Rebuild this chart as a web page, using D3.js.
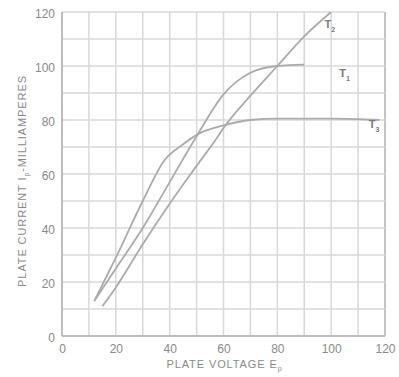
<!DOCTYPE html>
<html>
<head>
<meta charset="utf-8">
<script src="https://cdn.jsdelivr.net/npm/d3@7"></script>
<style>
  body { margin: 0; background: #fff; }
  text { font-family: "Liberation Sans", Arial, sans-serif; fill: #8a8a8a; }
</style>
</head>
<body>
<div id="chart"></div>
<script>
// plate voltage (x) vs plate current (y), three tubes
var T1_V = [12, 20, 30, 40, 50, 60, 70, 80, 90],
    T1_I = [13, 25, 40, 57, 74, 89.5, 97.5, 100, 100.5];
var T2_V = [15, 20, 30, 40, 50, 58, 60, 70, 80, 90, 100],
    T2_I = [11, 18, 34, 49, 63, 74, 77, 89, 100, 111, 120];
var T3_V = [12, 20, 30, 38, 45, 50, 60, 70, 80, 100, 118],
    T3_I = [13, 29, 50, 65, 71, 74.5, 78, 80, 80.5, 80.5, 80];
var TICKS = [0, 20, 40, 60, 80, 100, 120];

var margin = { top: 12, right: 14, bottom: 41, left: 62 },
    width = 399 - margin.left - margin.right,
    height = 377 - margin.top - margin.bottom;

var svg = d3.select("#chart")
    .append("svg")
    .attr("width", 399)
    .attr("height", 377)
    .append("g")
    .attr("transform", "translate(" + margin.left + "," + margin.top + ")");

var x = d3.scaleLinear().domain([0, 120]).range([0, width]);
var y = d3.scaleLinear().domain([0, 120]).range([height, 0]);

// grid every 10
svg.append("g")
    .selectAll("line")
    .data(d3.range(10, 121, 10))
    .enter().append("line")
    .attr("x1", function (d) { return x(d); })
    .attr("x2", function (d) { return x(d); })
    .attr("y1", 0)
    .attr("y2", height)
    .attr("stroke", function (d) { return d == 120 ? "#c4c4c4" : "#d8d8d8"; })
    .attr("stroke-width", function (d) { return d == 120 ? 2 : 1.5; });

svg.append("g")
    .selectAll("line")
    .data(d3.range(10, 121, 10))
    .enter().append("line")
    .attr("x1", 0)
    .attr("x2", width)
    .attr("y1", function (d) { return y(d); })
    .attr("y2", function (d) { return y(d); })
    .attr("stroke", "#d8d8d8")
    .attr("stroke-width", 1.5);

// axes
svg.append("line").attr("x1", 0).attr("x2", 0).attr("y1", 0).attr("y2", height)
    .attr("stroke", "#bdbdbd").attr("stroke-width", 2);
svg.append("line").attr("x1", 0).attr("x2", width).attr("y1", height).attr("y2", height)
    .attr("stroke", "#bdbdbd").attr("stroke-width", 2);

var yAxis = svg.append("g")
    .call(d3.axisLeft(y).tickValues(TICKS).tickSize(0).tickPadding(7));
yAxis.select(".domain").remove();
yAxis.selectAll("text").style("font-size", "12px").attr("dy", "0.45em");

var xAxis = svg.append("g")
    .attr("transform", "translate(0," + height + ")")
    .call(d3.axisBottom(x).tickValues(TICKS).tickSize(0).tickPadding(8));
xAxis.select(".domain").remove();
xAxis.selectAll("text").style("font-size", "12px");

// curves
var line = d3.line()
    .x(function (d) { return x(d[0]); })
    .y(function (d) { return y(d[1]); })
    .curve(d3.curveMonotoneX);

[[T1_V, T1_I], [T2_V, T2_I], [T3_V, T3_I]].forEach(function (s) {
    svg.append("path")
        .datum(d3.zip(s[0], s[1]))
        .attr("fill", "none")
        .attr("stroke", "#ababab")
        .attr("stroke-width", 1.8)
        .attr("d", line);
});

// curve labels
var LABELS = [["T", "2", 97.5, 114], ["T", "1", 103, 96], ["T", "3", 114, 77]];
LABELS.forEach(function (l) {
    var t = svg.append("text")
        .attr("x", x(l[2]))
        .attr("y", y(l[3]))
        .style("font-size", "11px")
        .style("font-weight", "bold")
        .style("fill", "#7a7a7a");
    t.append("tspan").text(l[0]);
    t.append("tspan").attr("dy", 4).style("font-size", "7px").text(l[1]);
});

// axis titles
var yt = svg.append("text")
    .attr("transform", "translate(-36,169) rotate(-90)")
    .attr("text-anchor", "middle")
    .style("font-size", "11px")
    .style("letter-spacing", "0.9px");
yt.append("tspan").text("PLATE CURRENT I");
yt.append("tspan").attr("dy", 3).style("font-size", "7px").text("p");
yt.append("tspan").attr("dy", -3).text("-MILLIAMPERES");

var xt = svg.append("text")
    .attr("x", x(60) + 1)
    .attr("y", height + 32)
    .attr("text-anchor", "middle")
    .style("font-size", "11px")
    .style("letter-spacing", "0.9px");
xt.append("tspan").text("PLATE VOLTAGE E");
xt.append("tspan").attr("dy", 3).style("font-size", "7px").text("p");
</script>
</body>
</html>
